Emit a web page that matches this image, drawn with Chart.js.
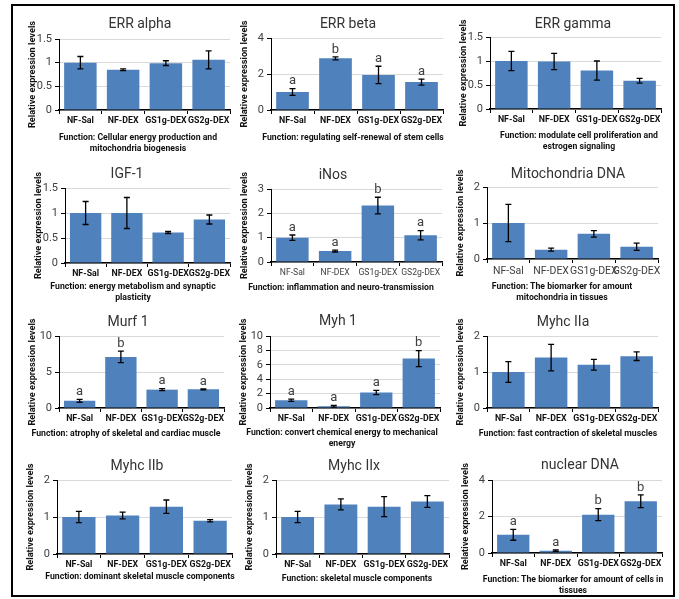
<!DOCTYPE html>
<html>
<head>
<meta charset="utf-8">
<script src="https://cdn.jsdelivr.net/npm/chart.js@4.4.1/dist/chart.umd.min.js"></script>
<style>
  body { margin: 0; background: #fff; width: 679px; height: 599px; position: relative; overflow: hidden; font-family: Roboto, "Noto Sans", sans-serif; }
  #frame { position: absolute; left: 11px; top: 4px; width: 664px; height: 593px; border: 2px solid #000; box-sizing: border-box; }
  canvas { position: absolute; }
  .ttl { position: absolute; transform: translate(-50%, -50%); white-space: nowrap; font-size: 14px; color: #333; }
  .fn { position: absolute; transform: translateX(-50%); white-space: nowrap; text-align: center; font-size: 8.7px; font-weight: bold; line-height: 11px; color: #111; }
</style>
</head>
<body>
<div id="frame"></div>
<script>
const groups = ["NF-Sal", "NF-DEX", "GS1g-DEX", "GS2g-DEX"];

const errAlpha = [1.00, 0.85, 0.99, 1.06];
const errAlphaSd = [0.13, 0.02, 0.05, 0.19];
const errBeta = [1.00, 2.87, 1.95, 1.55];
const errBetaSd = [0.19, 0.08, 0.48, 0.17];
const errGamma = [1.00, 0.99, 0.80, 0.59];
const errGammaSd = [0.20, 0.17, 0.20, 0.05];
const igf1 = [1.00, 1.00, 0.61, 0.87];
const igf1Sd = [0.23, 0.31, 0.02, 0.09];
const inos = [1.00, 0.45, 2.32, 1.10];
const inosSd = [0.11, 0.04, 0.34, 0.19];
const mitoDna = [1.00, 0.26, 0.70, 0.34];
const mitoDnaSd = [0.52, 0.04, 0.09, 0.10];
const murf1 = [1.00, 7.10, 2.55, 2.60];
const murf1Sd = [0.20, 0.80, 0.15, 0.07];
const myh1 = [1.07, 0.24, 2.15, 6.86];
const myh1Sd = [0.15, 0.12, 0.30, 1.10];
const myhcIIa = [1.00, 1.40, 1.20, 1.44];
const myhcIIaSd = [0.29, 0.37, 0.15, 0.12];
const myhcIIb = [1.00, 1.04, 1.28, 0.90];
const myhcIIbSd = [0.15, 0.09, 0.18, 0.03];
const myhcIIx = [1.00, 1.34, 1.28, 1.42];
const myhcIIxSd = [0.15, 0.15, 0.27, 0.16];
const nuclearDna = [1.00, 0.13, 2.10, 2.84];
const nuclearDnaSd = [0.30, 0.04, 0.33, 0.35];

const lettersBeta = ["a", "b", "a", "a"];
const lettersInos = ["a", "a", "b", "a"];
const lettersMurf = ["a", "b", "a", "a"];
const lettersMyh1 = ["a", "a", "a", "b"];
const lettersNuclear = ["a", "a", "b", "b"];

const ticks15 = [0, 0.5, 1, 1.5];
const ticks2 = [0, 1, 2];
const ticks3 = [0, 1, 2, 3];
const ticks4 = [0, 2, 4];
const ticks10by5 = [0, 5, 10];
const ticks10by2 = [0, 2, 4, 6, 8, 10];

const panels = [
  { name: "ERR alpha", data: errAlpha, sd: errAlphaSd, ticks: ticks15,
    fn: ["Function: Cellular energy production and", "mitochondria biogenesis"] },
  { name: "ERR beta", data: errBeta, sd: errBetaSd, ticks: ticks4, letters: lettersBeta,
    fn: ["Function: regulating self-renewal of stem cells"] },
  { name: "ERR gamma", data: errGamma, sd: errGammaSd, ticks: ticks15,
    fn: ["Function: modulate cell proliferation and", "estrogen signaling"] },
  { name: "IGF-1", data: igf1, sd: igf1Sd, ticks: ticks15,
    fn: ["Function: energy metabolism and synaptic", "plasticity"] },
  { name: "iNos", data: inos, sd: inosSd, ticks: ticks3, letters: lettersInos,
    fn: ["Function: inflammation and neuro-transmission"] },
  { name: "Mitochondria DNA", data: mitoDna, sd: mitoDnaSd, ticks: ticks2,
    fn: ["Function: The biomarker for amount", "mitochondria in tissues"] },
  { name: "Murf 1", data: murf1, sd: murf1Sd, ticks: ticks10by5, letters: lettersMurf,
    fn: ["Function: atrophy of skeletal and cardiac muscle"] },
  { name: "Myh 1", data: myh1, sd: myh1Sd, ticks: ticks10by2, letters: lettersMyh1,
    fn: ["Function: convert chemical energy to mechanical", "energy"] },
  { name: "Myhc IIa", data: myhcIIa, sd: myhcIIaSd, ticks: ticks2,
    fn: ["Function: fast contraction of skeletal muscles"] },
  { name: "Myhc IIb", data: myhcIIb, sd: myhcIIbSd, ticks: ticks2,
    fn: ["Function: dominant skeletal muscle components"] },
  { name: "Myhc IIx", data: myhcIIx, sd: myhcIIxSd, ticks: ticks2,
    fn: ["Function: skeletal muscle components"] },
  { name: "nuclear DNA", data: nuclearDna, sd: nuclearDnaSd, ticks: ticks4, letters: lettersNuclear,
    fn: ["Function: The biomarker for amount of cells in", "tissues"] },
];

// page layout of each panel: y-axis x, plot right, plot top, plot bottom,
// title centre, function text centre / first line
const boxes = [
  { ax: 59,  r: 230, t: 39,  b: 110, tx: 140, ty: 23,  fx: 138, fy: 132 },
  { ax: 271, r: 443, t: 38,  b: 110, tx: 348, ty: 23,  fx: 353, fy: 132 },
  { ax: 490, r: 661, t: 37,  b: 109, tx: 573, ty: 23,  fx: 579, fy: 130 },
  { ax: 65,  r: 230, t: 188, b: 263, tx: 127, ty: 173, fx: 133, fy: 281 },
  { ax: 271, r: 442, t: 189, b: 262, tx: 333, ty: 174, fx: 341, fy: 282 },
  { ax: 487, r: 658, t: 187, b: 259, tx: 568, ty: 173, fx: 562, fy: 281 },
  { ax: 59,  r: 224, t: 336, b: 408, tx: 128, ty: 321, fx: 126, fy: 428 },
  { ax: 270, r: 440, t: 336, b: 408, tx: 338, ty: 320, fx: 342, fy: 427 },
  { ax: 487, r: 658, t: 336, b: 408, tx: 563, ty: 321, fx: 568, fy: 428 },
  { ax: 57,  r: 232, t: 480, b: 554, tx: 137, ty: 465, fx: 140, fy: 571 },
  { ax: 276, r: 449, t: 480, b: 554, tx: 354, ty: 465, fx: 357, fy: 573 },
  { ax: 492, r: 662, t: 480, b: 553, tx: 580, ty: 464, fx: 573, fy: 574 },
];
// panels whose category labels are plain grey instead of bold (font size)
const plainLabels = { 4: 8.6, 5: 10.5 };

const errorBars = {
  id: "errorBars",
  afterDatasetsDraw(chart) {
    const ctx = chart.ctx;
    const y = chart.scales.y;
    const ds = chart.data.datasets[0];
    const meta = chart.getDatasetMeta(0);
    ctx.save();
    ctx.strokeStyle = "#000";
    ctx.lineWidth = 1.3;
    ctx.fillStyle = "#404040";
    ctx.font = "13px Roboto, sans-serif";
    ctx.textAlign = "center";
    ctx.textBaseline = "bottom";
    meta.data.forEach((bar, i) => {
      const v = ds.data[i], e = ds.sd[i];
      const top = y.getPixelForValue(v + e);
      const bot = y.getPixelForValue(v - e);
      ctx.beginPath();
      ctx.moveTo(bar.x, top); ctx.lineTo(bar.x, bot);
      ctx.moveTo(bar.x - 3, top); ctx.lineTo(bar.x + 3, top);
      ctx.moveTo(bar.x - 3, bot); ctx.lineTo(bar.x + 3, bot);
      ctx.stroke();
      if (ds.letters) ctx.fillText(ds.letters[i], bar.x, top - 1);
    });
    ctx.restore();
  }
};

const PAD_L = 6, Y_W = 44, PAD_T = 20, X_H = 24, PAD_R = 15;

panels.forEach((p, i) => {
  const g = boxes[i];
  const cv = document.createElement("canvas");
  const w = (g.r - g.ax) + PAD_L + Y_W + PAD_R;
  const h = (g.b - g.t) + PAD_T + X_H;
  cv.width = w; cv.height = h;
  cv.style.left = (g.ax - PAD_L - Y_W) + "px";
  cv.style.top = (g.t - PAD_T) + "px";
  cv.style.width = w + "px"; cv.style.height = h + "px";
  document.body.appendChild(cv);

  const ttl = document.createElement("div");
  ttl.className = "ttl";
  ttl.textContent = p.name;
  ttl.style.left = g.tx + "px"; ttl.style.top = g.ty + "px";
  document.body.appendChild(ttl);

  const fn = document.createElement("div");
  fn.className = "fn";
  fn.innerHTML = p.fn.join("<br>");
  fn.style.left = g.fx + "px"; fn.style.top = g.fy + "px";
  document.body.appendChild(fn);

  const plain = plainLabels[i];
  const yMax = p.ticks[p.ticks.length - 1];

  new Chart(cv, {
    type: "bar",
    data: {
      labels: groups,
      datasets: [{
        data: p.data,
        sd: p.sd,
        letters: p.letters,
        backgroundColor: "#4f81bd",
        borderWidth: 0,
        categoryPercentage: 1,
        barPercentage: 0.76,
      }],
    },
    options: {
      responsive: false,
      animation: false,
      layout: { padding: { left: PAD_L, top: PAD_T, right: PAD_R, bottom: 0 } },
      plugins: { legend: { display: false }, tooltip: { enabled: false }, title: { display: false } },
      scales: {
        x: {
          grid: { display: true, drawOnChartArea: false, drawTicks: true, tickLength: 4, color: "#000", offset: true },
          border: { color: "#000", width: 1.5 },
          ticks: {
            maxRotation: 0, minRotation: 0, autoSkip: false, padding: 2,
            color: plain ? "#404040" : "#111",
            font: { family: "Roboto", size: plain || 8.8, weight: plain ? "normal" : "bold" },
          },
          afterFit(scale) { scale.height = X_H; },
        },
        y: {
          min: 0, max: yMax,
          afterBuildTicks(scale) { scale.ticks = p.ticks.map(v => ({ value: v })); },
          grid: { color: "#d9d9d9", tickColor: "#000", tickLength: 4 },
          border: { color: "#000", width: 1 },
          ticks: {
            autoSkip: false, padding: 3, color: "#404040", font: { family: "Roboto", size: 11 },
            callback: v => String(v),
          },
          title: {
            display: true, text: "Relative expression levels", color: "#111",
            font: { family: "Roboto", size: 9.2, weight: "bold" },
            padding: { top: 12, bottom: 0 },
          },
          afterFit(scale) { scale.width = Y_W; },
        },
      },
    },
    plugins: [errorBars],
  });
});
</script>
</body>
</html>
